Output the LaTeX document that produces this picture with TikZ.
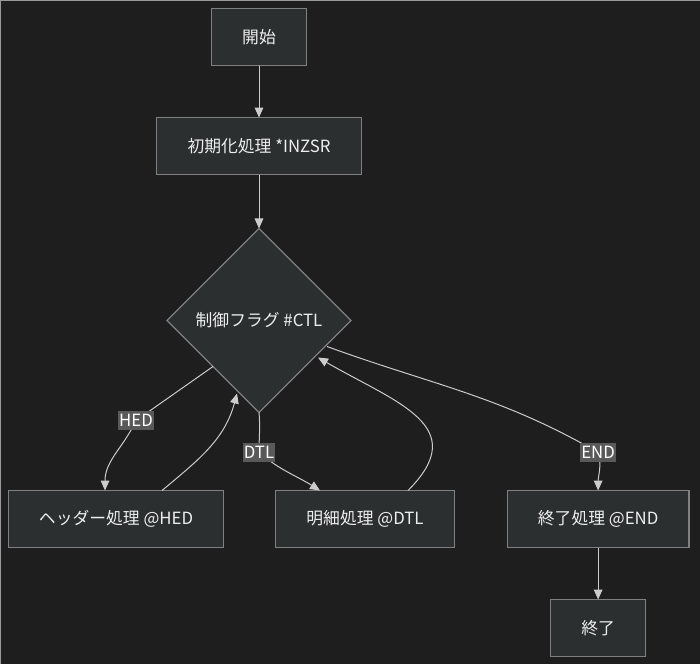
\documentclass[tikz,border=0pt]{standalone}
\usepackage{fontspec}
\setmainfont{Noto Sans CJK JP}
\usetikzlibrary{positioning,shapes.geometric,arrows.meta}
\definecolor{bgdark}{HTML}{1E1E1E}
\definecolor{boxfill}{HTML}{2C2F2F}
\definecolor{boxline}{HTML}{808080}
\definecolor{flowline}{HTML}{CCCCCC}
\definecolor{tagfill}{HTML}{595959}
\definecolor{txt}{HTML}{EEEEEE}

\begin{document}
\begin{tikzpicture}
	[box/.style={rectangle,draw=boxline,fill=boxfill,line width=0.9pt,text=txt,outer sep=0pt,inner xsep=23pt,minimum height=42.75pt,font=\fontsize{12.6pt}{14pt}\selectfont},
	decision/.style={diamond,aspect=1,draw=boxline,fill=boxfill,line width=0.9pt,text=txt,outer sep=0pt,minimum width=138pt,minimum height=138pt,inner sep=0pt,font=\fontsize{12.6pt}{14pt}\selectfont},
	flow/.style={draw=flowline,line width=0.75pt,-{Triangle[length=7.5pt,width=6.5pt]}},
	tag/.style={fill=tagfill,text=white,inner xsep=1pt,inner ysep=2.5pt,font=\fontsize{12.6pt}{14pt}\selectfont}]
	\fill[bgdark] (0,0) rectangle (525pt,-498pt);
	\useasboundingbox (0,0) rectangle (525pt,-498pt);
	\draw[gray!80,line width=1pt] (0,-498pt) -- (0,0) -- (525pt,0);
	\node[box]      (start) at (194.25pt,-27.75pt) {開始};
	\node[box]      (init)  [below=39pt of start] {初期化処理 *INZSR};
	\node[decision] (ctl)   [below=40.5pt of init] {制御フラグ \#CTL};
	\node[box]      (dtl)   [below=58.5pt of ctl, xshift=79.5pt] {明細処理 @DTL};
	\node[box]      (hed)   [left=39pt of dtl] {ヘッダー処理 @HED};
	\node[box]      (endp)  [right=39.75pt of dtl] {終了処理 @END};
	\node[box]      (fin)   [below=39pt of endp] {終了};
	\draw[flow] (start) -- (init);
	\draw[flow] (init) -- (ctl);
	\draw[flow] (ctl.south west) -- ([shift={(15pt,52.5pt)}]hed.north) node[tag] {HED} to[out=-115,in=90] ([xshift=-8.25pt]hed.north);
	\draw[flow] ([xshift=34.5pt]hed.north) to[out=40,in=-105] ([shift={(-16.5pt,-54.75pt)}]ctl.center);
	\draw[flow] (ctl.south) to[out=-85,in=90] ([yshift=-30pt]ctl.south) node[tag] {DTL} to[out=-40,in=148] ([xshift=-33.75pt]dtl.north);
	\draw[flow] ([xshift=32.25pt]dtl.north) to[out=45,in=-30,looseness=1.45] ([shift={(44.25pt,-27.75pt)}]ctl.center);
	\draw[flow] ([shift={(51pt,-19.5pt)}]ctl.center) to[out=-20,in=150] ([yshift=28.5pt]endp.north) node[tag] {END} to[out=-75,in=90] (endp.north);
	\draw[flow] (endp) -- (fin);
\end{tikzpicture}
\end{document}
